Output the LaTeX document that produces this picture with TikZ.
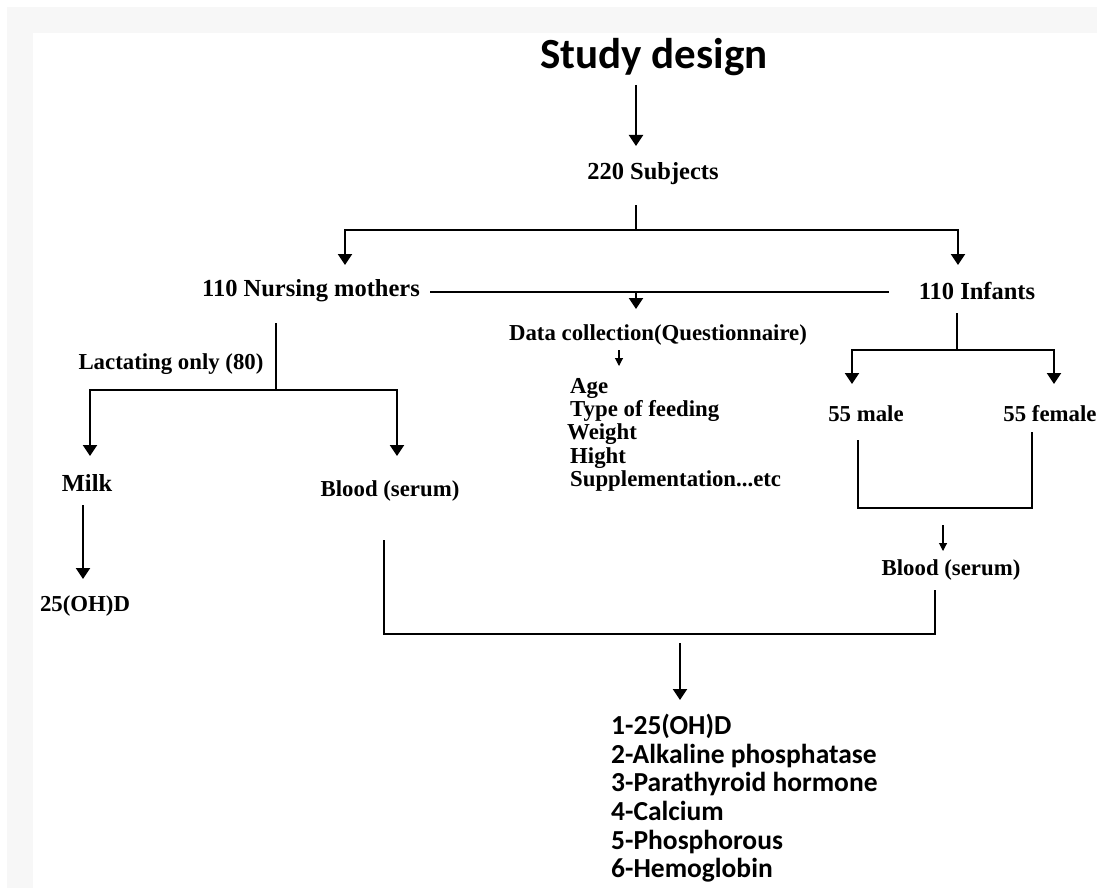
\documentclass[tikz,border=0pt]{standalone}
\usepackage{fontspec}
\setmainfont{Liberation Serif}
\newfontfamily\calibri{Carlito}
\usetikzlibrary{arrows.meta,calc}
\definecolor{framegray}{HTML}{F7F7F7}
\tikzset{
  lbl/.style={font=\bfseries\fontsize{24.5}{26}\selectfont, inner sep=0pt},
  sml/.style={font=\bfseries\fontsize{22.8}{23.3}\selectfont, inner sep=0pt, align=left},
  ttl/.style={font=\calibri\bfseries\fontsize{43}{50}\selectfont, inner sep=0pt},
  res/.style={font=\calibri\bfseries\fontsize{27.5}{28.6}\selectfont, inner sep=0pt, align=left},
  ln/.style={line width=1.5pt},
  arr/.style={line width=2pt, -{Triangle[width=14pt,length=11pt]}},
  tarr/.style={line width=1.1pt, -{Triangle[width=8pt,length=8pt]}}
}
\begin{document}
\begin{tikzpicture}[x=1pt,y=-1pt]
    \useasboundingbox (0,0) rectangle (1097,888);
    \fill[framegray] (7,7) rectangle (1097,33);
    \fill[framegray] (7,33) rectangle (33,888);

    % labels
    \node[ttl] (title) at (654,57) {Study design};
    \node[lbl] (subj) at (653,174) {220 Subjects};
    \node[lbl] (moth) at (311,291) {110 Nursing mothers};
    \node[lbl] (inf) at (977,291) {110 Infants};
    \node[sml] (data) at (658,335) {Data collection(Questionnaire)};
    \node[sml, anchor=north west] (items) at (570,378) {Age\\Type of feeding\\\hspace*{-3pt}Weight\\Hight\\Supplementation...etc};
    \node[sml] (lact) at (171,364) {Lactating only (80)};
    \node[lbl] (milk) at (87,483) {Milk};
    \node[sml] (bldm) at (390,491) {Blood (serum)};
    \node[sml] (vitd) at (85,606) {25(OH)D};
    \node[sml] (male) at (866,414) {55 male};
    \node[sml] (fem) at (1050,414) {55 female};
    \node[sml] (bldi) at (951,570) {Blood (serum)};
    \node[res, anchor=north west] (tests) at (611,714) {1-25(OH)D\\2-Alkaline phosphatase\\3-Parathyroid hormone\\4-Calcium\\5-Phosphorous\\6-Hemoglobin};

    % junctions
    \coordinate (s1) at (636,205);
    \coordinate (s2) at (636,230);
    \coordinate (m1) at (276,323);
    \coordinate (m2) at (276,390);
    \coordinate (f1) at (957,313);
    \coordinate (f2) at (957,350);
    \coordinate (j1) at (858,440);
    \coordinate (j2) at (1032,432);
    \coordinate (b1) at (384,540);
    \coordinate (b2) at (935,590);

    % connectors
    \draw[arr] (636,85) -- (636,146);
    \draw[ln] (s1) -- (s2);
    \draw[arr] (s2) -| (345,265);
    \draw[arr] (s2) -| (958,265);
    \draw[ln] ($(moth.east)+(10,1)$) -- ($(inf.west)+(-30,1)$);
    \draw[arr] (636,292) -- (636,309);
    \draw[tarr] (619,350) -- (619,366);

    \draw[ln] (m1) -- (m2);
    \draw[arr] (m2) -| (90,456);
    \draw[arr] (m2) -| (397,456);
    \draw[arr] (83,505) -- (83,579);

    \draw[ln] (f1) -- (f2);
    \draw[arr] (f2) -| (852,384);
    \draw[arr] (f2) -| (1054,384);
    \draw[ln] (j1) |- (945,508) -| (j2);
    \draw[tarr] (943,525) -- (943,551);

    \draw[ln] (b1) |- (935,634);
    \draw[line width=2.2pt] (b2) -- (935,635);
    \draw[arr] (680,643) -- (680,700);
\end{tikzpicture}
\end{document}
